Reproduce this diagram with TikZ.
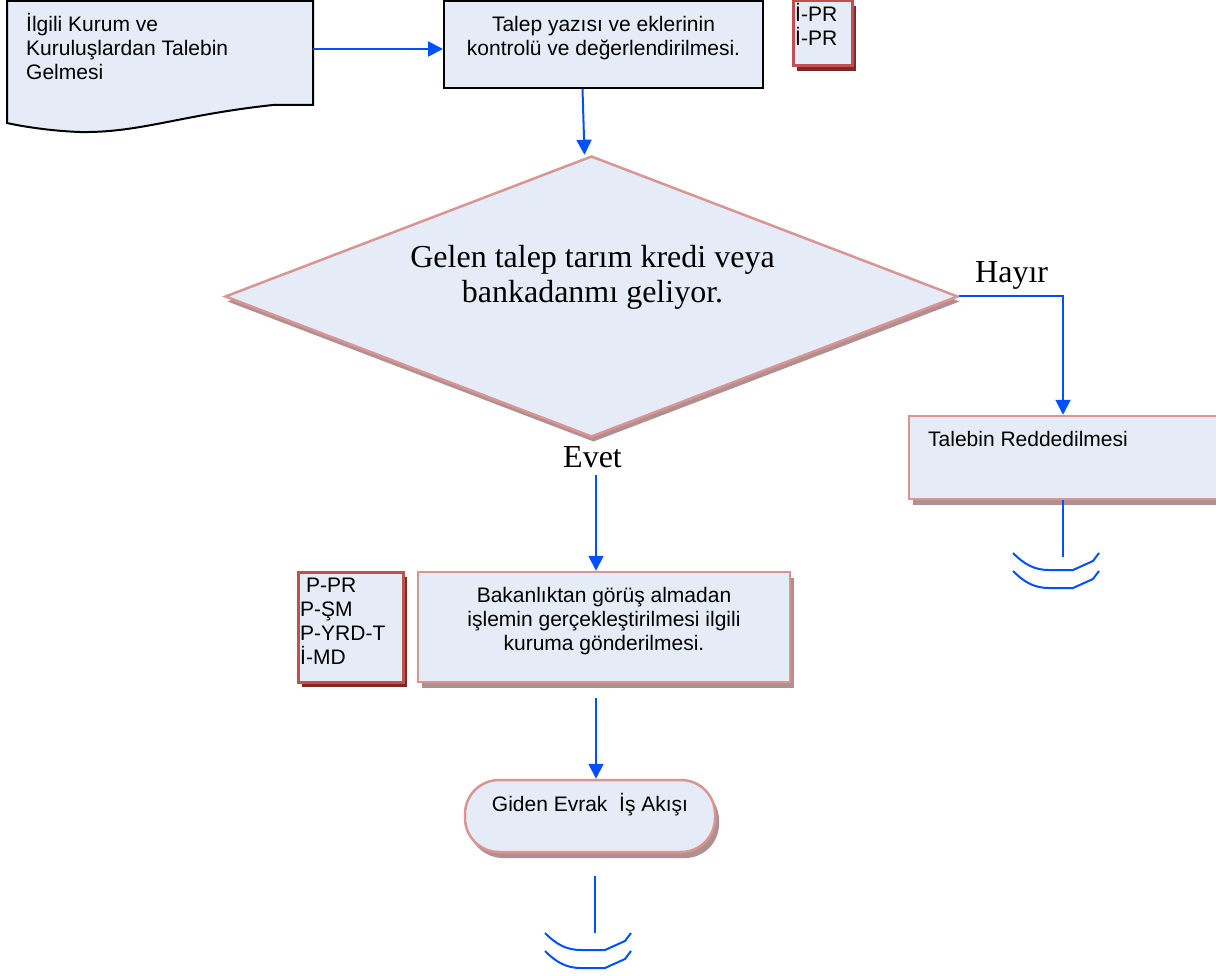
\documentclass[tikz,border=0pt]{standalone}
\usepackage{fontspec}
\setmainfont{Liberation Serif}
\newfontfamily\arialf{Liberation Sans}
\usetikzlibrary{shapes.geometric,arrows.meta,shadows}
\definecolor{boxfill}{RGB}{230,236,247}
\definecolor{pinkb}{RGB}{217,149,148}
\definecolor{shadowc}{RGB}{178,143,143}
\definecolor{redb}{RGB}{192,80,77}
\definecolor{darkred}{RGB}{128,42,40}
\definecolor{flowblue}{RGB}{0,80,255}
\begin{document}
\begin{tikzpicture}[x=1pt,y=-1pt,
 sans/.style={font=\arialf\fontsize{21}{24}\selectfont, inner sep=0pt},
 serif/.style={font=\fontsize{32}{35}\selectfont, inner sep=0pt},
 pinkbox/.style={draw=pinkb, line width=2.5pt, fill=boxfill, inner sep=0pt,
   general shadow={fill=shadowc, shadow xshift=4pt, shadow yshift=-6pt}},
 blackbox/.style={draw=black, line width=2pt, fill=boxfill, inner sep=0pt},
 redbox/.style={draw=redb, line width=3pt, fill=boxfill, inner sep=0pt,
   general shadow={fill=darkred, shadow xshift=4pt, shadow yshift=-5pt}},
 conn/.style={draw=flowblue, line width=2pt},
 arr/.style={conn, -{Triangle[length=15pt,width=15pt]}},
 endarcs/.pic={
   \foreach \dy in {0,18} {
     \draw[conn] (-50,\dy) .. controls (-38,\dy+12) and (-28,\dy+17) .. (-14,\dy+17)
        -- (10,\dy+17) -- (30,\dy+8) -- (36,\dy);
   }
 }
]
\useasboundingbox (0,0) rectangle (1216,976);
\clip (0,0) rectangle (1216,976);

% document shape
\draw[blackbox] (7,1) -- (313,1) -- (313,105) -- (273,105)
  .. controls (180,115) and (140,133) .. (80,132)
  .. controls (50,131) and (20,126) .. (7,123) -- cycle;
\node[sans, align=left, anchor=west] (docT) at (26,46) {İlgili Kurum ve\\Kuruluşlardan Talebin\\Gelmesi};
\coordinate (docR) at (313,49);

% first process box
\node[blackbox, minimum width=319pt, minimum height=87pt] (talep) at (603.5,44.5) {};
\node[sans, align=center] (talepT) at (603.5,38) {Talep yazısı ve eklerinin\\kontrolü ve değerlendirilmesi.};
\draw[arr] (docR) -- (docR -| talep.west);

% I-PR box
\node[redbox, minimum width=59pt, minimum height=65pt] (ipr) at (822.5,33.5) {};
\node[sans, align=left, anchor=west] (iprT) at (795,24) {İ-PR\\İ-PR};

% decision
\node[diamond, draw=pinkb, line width=2.5pt, fill=boxfill, minimum width=733pt,
  minimum height=281pt, inner sep=0pt,
  general shadow={fill=shadowc, shadow xshift=2pt, shadow yshift=-5pt}] (dia) at (591.5,296.5) {};
\node[serif, align=center] (diaT) at (592.5,277) {Gelen talep tarım kredi veya\\bankadanmı geliyor.};
\draw[arr] ([xshift=-21pt]talep.south) -- ([xshift=-7pt]dia.north);

% Hayir branch
\node[serif, anchor=base west] (hayir) at (975,283) {Hayır};
\node[pinkbox, minimum width=308pt, minimum height=83pt] (rej) at (1063,457.5) {};
\node[sans, anchor=west] (rejT) at (928,439) {Talebin Reddedilmesi};
\draw[arr] (dia.east) -| (rej.north);
\coordinate (rejEnd) at (1063,557);
\draw[conn] (rej.south) -- (rejEnd);
\pic at (1063,553) {endarcs};

% Evet branch
\node[serif, anchor=base west] (evet) at (563,467) {Evet};
\coordinate (evetS) at (596,475);
\node[pinkbox, minimum width=372pt, minimum height=110pt] (b4) at (604,627) {};
\node[sans, align=center] (b4T) at (604,621) {Bakanlıktan görüş almadan\\işlemin gerçekleştirilmesi ilgili\\kuruma gönderilmesi.};
\draw[arr] (evetS) -- (evetS |- b4.north);

\node[redbox, minimum width=105pt, minimum height=110pt] (pp) at (350.5,627) {};
\node[sans, align=left, anchor=west] (ppT) at (300,621.5) {\hspace*{6pt}P-PR\\P-ŞM\\P-YRD-T\\İ-MD};

% terminator
\node[pinkbox, rounded corners=34pt, minimum width=250pt, minimum height=72pt,
  general shadow={fill=shadowc, shadow xshift=3pt, shadow yshift=-5pt}] (term) at (590,816) {};
\node[sans] (termT) at (590,804.5) {Giden Evrak\ \ İş Akışı};
\coordinate (c2) at (596,698);
\draw[arr] (c2) -- (c2 |- term.north);
\coordinate (g1) at (595,876);
\coordinate (g2) at (595,933);
\draw[conn] (g1) -- (g2);
\pic at (595,933) {endarcs};
\end{tikzpicture}
\end{document}
